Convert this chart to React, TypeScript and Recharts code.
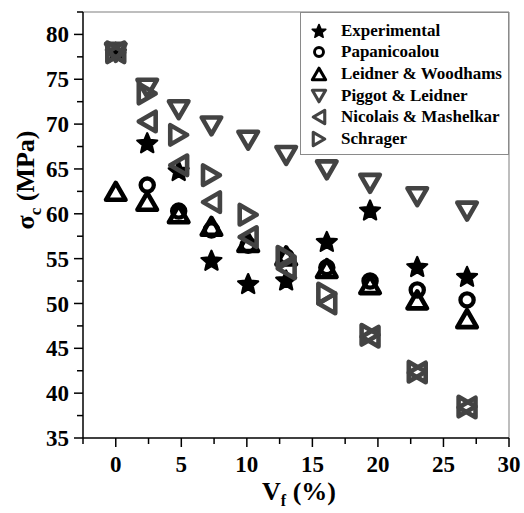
import React from 'react';
import { ScatterChart, Scatter, XAxis, YAxis, ReferenceLine, Legend, Label } from 'recharts';

// volume fraction of fibre (%)
const vf = [0, 2.4, 4.8, 7.3, 10.1, 13, 16.1, 19.4, 23, 26.8];

// composite strength (MPa), one list per series
const experimental = [78, 67.9, 64.8, 54.8, 52.2, 52.6, 56.9, 60.4, 54.1, 53.0];
const papanicoalou = [null, 63.2, 60.3, 58.2, 56.5, 55.2, 54.0, 52.5, 51.5, 50.4];
const leidnerWoodhams = [62.5, 61.4, 60.0, 58.6, 56.8, 55.3, 53.9, 52.1, 50.4, 48.3];
const piggotLeidner = [78, 74.0, 71.6, 69.8, 68.2, 66.5, 64.9, 63.4, 61.9, 60.3];
const nicolaisMashelkar = [78, 70.3, 65.4, 61.3, 57.4, 53.9, 50.0, 46.3, 42.3, 38.4];
const schrager = [78, 73.4, 68.8, 64.3, 59.9, 55.2, 51.1, 46.5, 42.4, 38.5];

const xTicks = [-2.5, 0, 2.5, 5, 7.5, 10, 12.5, 15, 17.5, 20, 22.5, 25, 27.5, 30];
const yTicks = [35, 37.5, 40, 42.5, 45, 47.5, 50, 52.5, 55, 57.5, 60, 62.5, 65, 67.5, 70, 72.5, 75, 77.5, 80, 82.5];

const FONT = "'Liberation Serif', 'Times New Roman', serif";
const PLOT_LEFT = 83;
const PLOT_BOTTOM = 438;
const GREY = '#434343';

const toRows = (vals: (number | null)[]) =>
  vf.map((x, i) => ({ x, y: vals[i] })).filter((d) => d.y !== null);

type MarkProps = { cx: number; cy: number; k?: number; color?: string };

const Star = ({ cx, cy, k = 1, color = '#000' }: MarkProps) => {
  const pts: string[] = [];
  for (let i = 0; i < 10; i++) {
    const r = (i % 2 === 0 ? 10.5 : 4.8) * k;
    const a = -Math.PI / 2 + (i * Math.PI) / 5;
    pts.push(`${cx + r * Math.cos(a)},${cy + 0.8 * k + r * Math.sin(a)}`);
  }
  return <polygon points={pts.join(' ')} fill={color} stroke={color} strokeWidth={2.2 * k} strokeLinejoin="round" />;
};

const Ring = ({ cx, cy, k = 1, color = '#000' }: MarkProps) => (
  <circle cx={cx} cy={cy} r={6.6 * k} fill="none" stroke={color} strokeWidth={4.3 * k} />
);

const Tri = ({ cx, cy, k = 1, color = '#000', dir }: MarkProps & { dir: 'up' | 'down' | 'left' | 'right' }) => {
  const s = 19.5 * k;
  const h = 16.9 * k;
  let p: number[][];
  if (dir === 'up') p = [[cx, cy - h / 2], [cx + s / 2, cy + h / 2], [cx - s / 2, cy + h / 2]];
  else if (dir === 'down') p = [[cx, cy + h / 2], [cx + s / 2, cy - h / 2], [cx - s / 2, cy - h / 2]];
  else if (dir === 'right') p = [[cx + h / 2, cy], [cx - h / 2, cy - s / 2], [cx - h / 2, cy + s / 2]];
  else p = [[cx - h / 2, cy], [cx + h / 2, cy - s / 2], [cx + h / 2, cy + s / 2]];
  return (
    <polygon
      points={p.map((q) => q.join(',')).join(' ')}
      fill="none"
      stroke={color}
      strokeWidth={4.6 * k}
      strokeLinejoin="round"
    />
  );
};

const series = [
  { name: 'Experimental', data: experimental, draw: (p: MarkProps) => <Star {...p} /> },
  { name: 'Papanicoalou', data: papanicoalou, draw: (p: MarkProps) => <Ring {...p} /> },
  { name: 'Leidner & Woodhams', data: leidnerWoodhams, draw: (p: MarkProps) => <Tri {...p} dir="up" /> },
  { name: 'Piggot & Leidner', data: piggotLeidner, draw: (p: MarkProps) => <Tri {...p} color={GREY} dir="down" /> },
  { name: 'Nicolais & Mashelkar', data: nicolaisMashelkar, draw: (p: MarkProps) => <Tri {...p} color={GREY} dir="left" /> },
  { name: 'Schrager', data: schrager, draw: (p: MarkProps) => <Tri {...p} color={GREY} dir="right" /> },
];

const YTick = ({ y, payload }: any) => {
  const v = payload.value;
  const major = v % 5 === 0;
  return (
    <g>
      <line x1={PLOT_LEFT - (major ? 9 : 6)} x2={PLOT_LEFT} y1={y} y2={y} stroke="#000" strokeWidth={1.5} />
      {major && (
        <text x={PLOT_LEFT - 14} y={y} dy="0.35em" textAnchor="end" fontFamily={FONT} fontWeight={700} fontSize={23} fill="#000">
          {v}
        </text>
      )}
    </g>
  );
};

const XTick = ({ x, payload }: any) => {
  const v = payload.value;
  const major = v % 5 === 0;
  return (
    <g>
      <line x1={x} x2={x} y1={PLOT_BOTTOM} y2={PLOT_BOTTOM + (major ? 9 : 6)} stroke="#000" strokeWidth={1.5} />
      {major && (
        <text x={x} y={PLOT_BOTTOM + 34} textAnchor="middle" fontFamily={FONT} fontWeight={700} fontSize={23} fill="#000">
          {v}
        </text>
      )}
    </g>
  );
};

const LegendBox = () => (
  <div
    style={{
      width: 209,
      height: 143,
      boxSizing: 'border-box',
      border: '1px solid #8a8a8a',
      background: '#fff',
      paddingTop: 7,
    }}
  >
    {series.map((s) => (
      <div key={s.name} style={{ display: 'flex', alignItems: 'center', height: 21.6 }}>
        <svg width={36} height={20} style={{ flex: 'none', marginLeft: 4 }}>
          {s.draw({ cx: 14, cy: 10, k: 0.68 })}
        </svg>
        <span style={{ fontFamily: FONT, fontWeight: 700, fontSize: 17, whiteSpace: 'nowrap' }}>{s.name}</span>
      </div>
    ))}
  </div>
);

const XTitle = ({ viewBox }: any) => {
  const cx = viewBox.x + viewBox.width / 2;
  return (
    <text x={cx + 3} y={500} textAnchor="middle" fontFamily={FONT} fontWeight={700} fontSize={26} fill="#000">
      V<tspan fontSize={16} dy={6}>f</tspan>
      <tspan dy={-6}> (%)</tspan>
    </text>
  );
};

const YTitle = () => (
  <text transform="translate(34,180) rotate(-90)" textAnchor="middle" fontFamily={FONT} fontWeight={700} fontSize={26} fill="#000">
    σ<tspan fontSize={17} dy={7}>c</tspan>
    <tspan dy={-7}> (MPa)</tspan>
  </text>
);

export default function App() {
  return (
    <div style={{ position: 'absolute', left: 0, top: 0, width: 524, height: 513, background: '#fff' }}>
      <ScatterChart width={524} height={513} margin={{ top: 12, right: 15, bottom: 0, left: 0 }}>
        <XAxis
          type="number"
          dataKey="x"
          domain={[-2.5, 30]}
          ticks={xTicks}
          interval={0}
          height={75}
          allowDataOverflow
          axisLine={{ stroke: '#000', strokeWidth: 1.5 }}
          tickLine={false}
          tick={<XTick />}
        >
          <Label content={<XTitle />} position="bottom" />
        </XAxis>
        <YAxis
          type="number"
          dataKey="y"
          domain={[35, 82.5]}
          ticks={yTicks}
          interval={0}
          width={83}
          allowDataOverflow
          axisLine={{ stroke: '#000', strokeWidth: 1.5 }}
          tickLine={false}
          tick={<YTick />}
        >
          <Label content={<YTitle />} position="left" />
        </YAxis>
        <ReferenceLine y={82.5} stroke="#a8a8a8" strokeWidth={1.5} />
        <ReferenceLine x={30} stroke="#a8a8a8" strokeWidth={1.5} />
        {series.map((s) => (
          <Scatter
            key={s.name}
            name={s.name}
            data={toRows(s.data)}
            isAnimationActive={false}
            shape={(p: any) => s.draw({ cx: p.cx, cy: p.cy })}
          />
        ))}
        <Legend
          layout="horizontal"
          verticalAlign="middle"
          align="center"
          content={<LegendBox />}
          wrapperStyle={{ left: 300, top: 12, width: 209, height: 143 }}
        />
      </ScatterChart>
    </div>
  );
}
